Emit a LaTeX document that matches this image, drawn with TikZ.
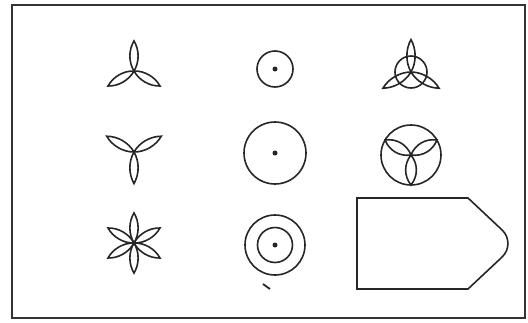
\documentclass[tikz,border=0pt]{standalone}
\tikzset{
  outline/.style={line width=1.6pt, draw=black!85},
  frame/.style={line width=2pt, draw=black!80},
  centredot/.style={fill=black!85},
  petal/.pic={\draw[outline] (0,0) .. controls (9,5.5) and (21,5.5) .. (30,0) .. controls (21,-5.5) and (9,-5.5) .. (0,0);},
}

\begin{document}
\begin{tikzpicture}[x=1pt,y=-1pt]
  \useasboundingbox (0,0) rectangle (528,322);
  \draw[frame] (12,5) rectangle (525,318);
  % row one
  \coordinate (trefoil up) at (134,71);
  \coordinate (small ring) at (275,69);
  \coordinate (knot) at (411,72);
  \foreach \a in {90,210,330} \pic[rotate=\a] at (trefoil up) {petal};
  \draw[outline] (small ring) circle[radius=18pt];
  \fill[centredot] (small ring) circle[radius=2.5pt];
  \foreach \a in {90,210,330} \pic[rotate=\a, xscale=1.08] at (knot) {petal};
  \draw[outline] (knot) circle[radius=16pt];
  % row two
  \coordinate (trefoil down) at (134,152);
  \coordinate (big ring) at (275,153);
  \coordinate (wheel) at (411,155);
  \foreach \a in {30,150,270} \pic[rotate=\a, xscale=1.05] at (trefoil down) {petal};
  \draw[outline] (big ring) circle[radius=31pt];
  \fill[centredot] (big ring) circle[radius=2.5pt];
  \foreach \a in {30,150,270} \pic[rotate=\a, yscale=1.3] at (wheel) {petal};
  \draw[outline] (wheel) circle[radius=30pt];
  % row three
  \coordinate (star) at (134,243);
  \coordinate (target) at (275,245);
  \foreach \a in {30,90,...,330} \pic[rotate=\a] at (star) {petal};
  \draw[outline] (target) circle[radius=30pt];
  \draw[outline] (target) circle[radius=17.5pt];
  \fill[centredot] (target) circle[radius=2.5pt];
  \draw[line width=1.8pt, black!85] (263,284) -- (270,289);
  \draw[outline] (357,198) -- (468,198) [rounded corners=20pt] -- (516.5,243.5) [sharp corners] -- (468,289) -- (357,289) -- cycle;
\end{tikzpicture}
\end{document}
